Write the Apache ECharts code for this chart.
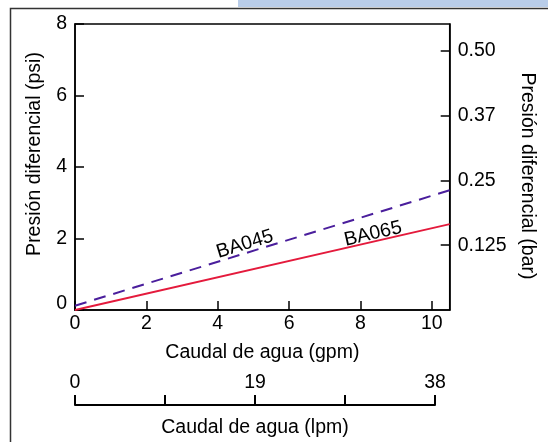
<!DOCTYPE html>
<html>
<head>
<meta charset="utf-8">
<style>
  html, body { margin: 0; padding: 0; background: #fff; }
  #chart { width: 548px; height: 442px; }
</style>
<script src="https://cdn.jsdelivr.net/npm/echarts@6/dist/echarts.min.js"></script>
</head>
<body>
<div id="chart"></div>
<script>
// caudal (gpm) en los extremos de cada recta
const flowGpm = [0, 10.5];
// presión diferencial (psi)
const ba065Psi = [0, 2.4];
const ba045Psi = [0.12, 3.35];

// escalas secundarias
const psiPerBar = 14.5038;
const barTicks = [0.125, 0.25, 0.375, 0.5];
const barTickLabels = ['0.125', '0.25', '0.37', '0.50'];
const lpmTicks = [0, 9.5, 19, 28.5, 38];
const lpmTickLabels = ['0', '', '19', '', '38'];

// etiquetas de las rectas: [gpm, psi, giro]
const ba045Tag = [4.76, 1.84, 17];
const ba065Tag = [8.35, 2.13, 13];

const font = 'Liberation Sans, Arial, sans-serif';
const fs = 19.5;
const black = '#000';

const chart = echarts.init(document.getElementById('chart'), null, { renderer: 'canvas' });

function pairs(xs, ys) {
  return xs.map((x, i) => [x, ys[i]]);
}

function tag(name, t) {
  return {
    symbol: 'circle',
    symbolSize: 1,
    silent: true,
    itemStyle: { color: 'rgba(0,0,0,0)' },
    data: [{ name: name, coord: [t[0], t[1]] }],
    label: {
      show: true,
      position: 'inside',
      formatter: name,
      rotate: t[2],
      color: black,
      fontFamily: font,
      fontSize: fs
    }
  };
}

const option = {
  animation: false,
  backgroundColor: '#fff',
  textStyle: { fontFamily: font },
  graphic: [
    { type: 'rect', shape: { x: 238, y: 0, width: 310, height: 7 }, style: { fill: '#b9cde9' }, silent: true },
    { type: 'polyline', shape: { points: [[10.5, 442], [10.5, 8.5], [548, 8.5]] }, style: { stroke: '#333', lineWidth: 1.5, fill: null }, silent: true }
  ],
  grid: [
    { left: 75, top: 24, width: 374.7, height: 286, show: true, borderColor: black, borderWidth: 1.5, backgroundColor: 'transparent' },
    { left: 75, top: 395, width: 360, height: 10 }
  ],
  xAxis: [
    {
      type: 'value', gridIndex: 0, min: 0, max: 10.5, interval: 2,
      name: 'Caudal de agua (gpm)', nameLocation: 'middle', nameGap: 33,
      nameTextStyle: { color: black, fontSize: fs, fontFamily: font },
      axisLine: { show: true, lineStyle: { color: black, width: 1.5 } },
      axisTick: { show: true, inside: true, length: 9, lineStyle: { color: black, width: 1.5 } },
      axisLabel: { color: black, fontSize: fs, fontFamily: font, margin: 4, showMaxLabel: false },
      splitLine: { show: false }
    },
    {
      type: 'value', gridIndex: 1, min: 0, max: 38,
      name: 'Caudal de agua (lpm)', nameLocation: 'middle', nameGap: 13,
      nameTextStyle: { color: black, fontSize: fs, fontFamily: font },
      axisLine: { show: true, lineStyle: { color: black, width: 2 } },
      axisTick: { show: true, inside: true, length: 10, customValues: lpmTicks, lineStyle: { color: black, width: 2 } },
      axisLabel: {
        inside: true, margin: 12, color: black, fontSize: fs, fontFamily: font,
        customValues: lpmTicks,
        formatter: v => lpmTickLabels[lpmTicks.indexOf(v)]
      },
      splitLine: { show: false }
    }
  ],
  yAxis: [
    {
      type: 'value', gridIndex: 0, min: 0, max: 8, interval: 2, position: 'left',
      name: 'Presión diferencial (psi)', nameLocation: 'middle', nameGap: 30,
      nameTextStyle: { color: black, fontSize: fs, fontFamily: font, padding: [0, 0, 0, 26] },
      axisLine: { show: true, lineStyle: { color: black, width: 1.5 } },
      axisTick: { show: true, inside: true, length: 9, lineStyle: { color: black, width: 1.5 } },
      axisLabel: {
        color: black, fontSize: fs, fontFamily: font, margin: 8,
        formatter: v => v === 0 ? '{z|0}' : String(v),
        rich: { z: { fontSize: fs, fontFamily: font, color: black, padding: [0, 0, 12, 0] } }
      },
      splitLine: { show: false }
    },
    {
      type: 'value', gridIndex: 0, min: 0, max: 8 / psiPerBar, position: 'right',
      name: 'Presión diferencial (bar)', nameLocation: 'middle', nameGap: 59, nameRotate: -90,
      nameTextStyle: { color: black, fontSize: fs, fontFamily: font, padding: [0, 0, 0, 18] },
      axisLine: { show: true, lineStyle: { color: black, width: 1.5 } },
      axisTick: { show: true, inside: true, length: 9, customValues: barTicks, lineStyle: { color: black, width: 1.5 } },
      axisLabel: {
        color: black, fontSize: fs, fontFamily: font, margin: 8,
        customValues: barTicks,
        formatter: v => barTickLabels[barTicks.indexOf(v)]
      },
      splitLine: { show: false }
    },
    { type: 'value', gridIndex: 1, min: 0, max: 1, show: false }
  ],
  series: [
    {
      name: 'BA065', type: 'line', xAxisIndex: 0, yAxisIndex: 0,
      data: pairs(flowGpm, ba065Psi),
      symbol: 'none', silent: true,
      lineStyle: { color: '#e41a3c', width: 1.8, type: 'solid' },
      markPoint: tag('BA065', ba065Tag)
    },
    {
      name: 'BA045', type: 'line', xAxisIndex: 0, yAxisIndex: 0,
      data: pairs(flowGpm, ba045Psi),
      symbol: 'none', silent: true,
      lineStyle: { color: '#4a1e9c', width: 2, type: [12, 8] },
      markPoint: tag('BA045', ba045Tag)
    }
  ]
};

chart.setOption(option);
</script>
</body>
</html>
